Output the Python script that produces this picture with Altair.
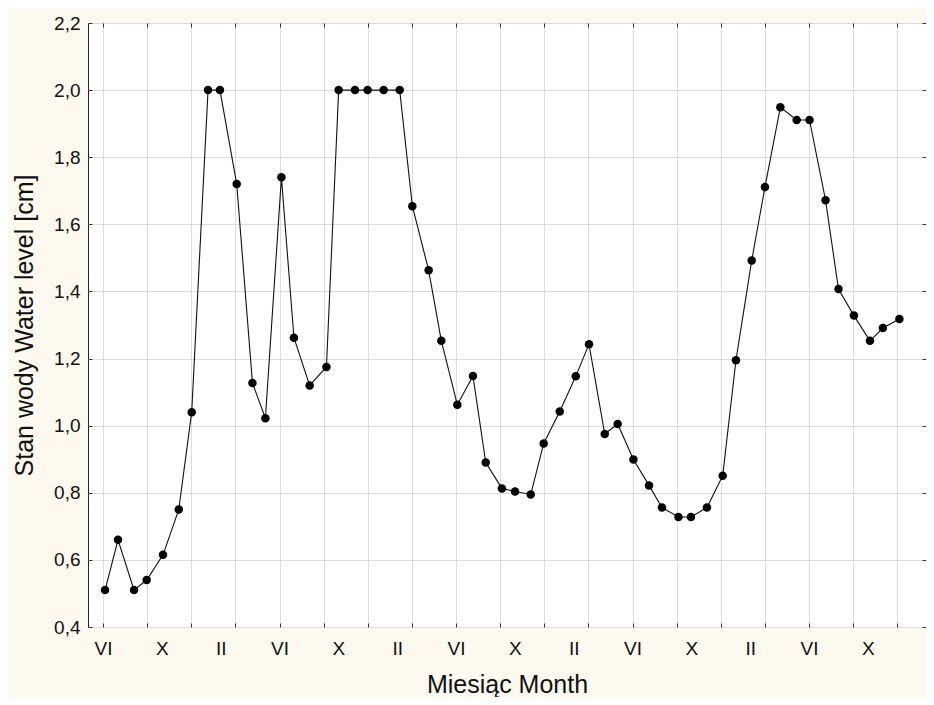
import altair as alt
import pandas as pd

month_pos = [0.14, 1.02, 2.11, 2.97, 4.08, 5.15, 6.03, 7.14, 7.95, 9.09,
             10.16, 11.04, 12.13, 12.98, 14.05, 15.19, 16.02, 17.13, 17.99, 19.08,
             20.17, 21.03, 22.14, 23.0, 24.09, 25.15, 26.02, 27.12, 28.01, 29.08,
             29.96, 31.05, 32.14, 33.04, 34.11, 34.99, 36.06, 37.12, 38.0, 39.12,
             39.97, 41.06, 42.13, 43.03, 44.1, 45.0, 46.05, 47.16, 48.03, 49.12,
             50.0, 51.05, 52.14, 53.02, 54.14]
water_level = [0.51, 0.66, 0.51, 0.54, 0.615, 0.75, 1.04, 2.0, 2.0, 1.72,
               1.127, 1.022, 1.74, 1.262, 1.12, 1.175, 2.0, 2.0, 2.0, 2.0,
               2.0, 1.654, 1.463, 1.253, 1.062, 1.148, 0.89, 0.813, 0.804, 0.795,
               0.947, 1.042, 1.147, 1.243, 0.975, 1.005, 0.899, 0.822, 0.756, 0.728,
               0.728, 0.756, 0.851, 1.195, 1.492, 1.711, 1.949, 1.911, 1.911, 1.672,
               1.407, 1.328, 1.253, 1.291, 1.318]

label_months = [0, 4, 8, 12, 16, 20, 24, 28, 32, 36, 40, 44, 48, 52]
label_names = ["VI", "X", "II", "VI", "X", "II", "VI", "X", "II", "VI", "X", "II", "VI", "X"]
grid_months = list(range(0, 55, 3))
y_ticks = [0.4, 0.6, 0.8, 1.0, 1.2, 1.4, 1.6, 1.8, 2.0, 2.2]

df = pd.DataFrame({"m": month_pos, "v": water_level})

FONT = "Liberation Sans"
x_values = sorted(set(label_months) | set(grid_months))
pos_js = "[" + ",".join(str(p) for p in label_months) + "]"
names_js = "[" + ",".join("'" + n + "'" for n in label_names) + "]"
label_expr = (f"indexof({pos_js}, datum.value) >= 0 ? "
              f"{names_js}[indexof({pos_js}, datum.value)] : ''")
on_grid = {"condition": {"test": "datum.value % 3 === 0", "value": 1}, "value": 0}

x_scale = alt.Scale(domain=[-1.02, 55.95], nice=False, zero=False)
y_scale = alt.Scale(domain=[0.4, 2.2], nice=False, zero=False)
y_label_expr = "replace(format(datum.value, '.1f'), '.', ',')"

main = alt.Chart(df).mark_line(
    color="#111", strokeWidth=1.1,
    point={"filled": True, "size": 72, "color": "#000", "opacity": 1},
).encode(
    x=alt.X("m:Q", scale=x_scale,
            axis=alt.Axis(values=x_values, labelExpr=label_expr, labelOverlap=False,
                          labelFlush=False, title="Miesiąc Month", grid=True,
                          gridOpacity=on_grid, tickOpacity=on_grid, gridColor="#dcdcdc",
                          domain=False, tickSize=4, offset=-4, tickColor="#333",
                          labelPadding=12, labelFontSize=19, titleFontSize=25,
                          titlePadding=14, labelFont=FONT, titleFont=FONT,
                          labelColor="#111", titleColor="#111", titleFontWeight="normal")),
    y=alt.Y("v:Q", scale=y_scale,
            axis=alt.Axis(values=y_ticks, labelExpr=y_label_expr, title="Stan wody Water level [cm]",
                          grid=True, gridColor="#dcdcdc", domain=False, tickSize=4, offset=-4,
                          tickColor="#333", labelPadding=8, labelFontSize=19, titleFontSize=25,
                          titlePadding=16, labelFont=FONT, titleFont=FONT,
                          labelColor="#111", titleColor="#111", titleFontWeight="normal")),
)

frame_axes = alt.Chart(df).mark_line(strokeOpacity=0).encode(
    x=alt.X("m:Q", scale=x_scale,
            axis=alt.Axis(orient="top", values=grid_months, labels=False, title=None, grid=False,
                          domain=False, tickSize=4, offset=-4, tickColor="#333")),
    y=alt.Y("v:Q", scale=y_scale,
            axis=alt.Axis(orient="right", values=y_ticks, labels=False, title=None, grid=False,
                          domain=False, tickSize=4, offset=-4, tickColor="#333")),
)

chart = alt.layer(main, frame_axes).resolve_axis(x="independent", y="independent").properties(
    width=838, height=604,
    background="#fdf9ef",
    padding={"left": 80, "top": 15, "right": 0, "bottom": 70},
    autosize=alt.AutoSizeParams(type="none"),
).configure_view(stroke="#222", strokeWidth=1, fill="white")

chart.save("out.html", embed_options={"renderer": "svg", "actions": False})
